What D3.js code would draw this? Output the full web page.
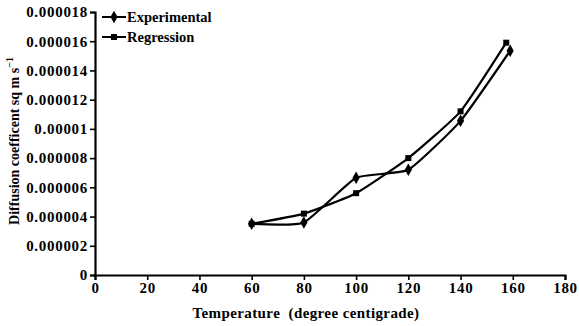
<!DOCTYPE html>
<html>
<head>
<meta charset="utf-8">
<script src="https://cdn.jsdelivr.net/npm/d3@7"></script>
<style>
  body { margin: 0; background: #fff; }
  svg text { font-family: "Liberation Serif", "DejaVu Serif", serif; fill: #000; }
</style>
</head>
<body>
<svg id="chart" width="579" height="326"></svg>
<script>
var expTemps = [60, 80, 100, 120, 140, 159];
var regTemps = [60, 80, 100, 120, 140, 157.5];
var experimental = [0.0000035, 0.0000036, 0.00000665, 0.0000072, 0.00001055, 0.00001535];
var regression = [0.0000035, 0.0000042, 0.0000056, 0.000008, 0.0000112, 0.0000159];
var xTicks = [0, 20, 40, 60, 80, 100, 120, 140, 160, 180];
var yTicks = [0, 0.000002, 0.000004, 0.000006, 0.000008, 0.00001, 0.000012, 0.000014, 0.000016, 0.000018];
var yTickLabels = ["0", "0.000002", "0.000004", "0.000006", "0.000008", "0.00001", "0.000012", "0.000014", "0.000016", "0.000018"];

var FONT = "'Liberation Serif', 'DejaVu Serif', serif";
var svg = d3.select("#chart");
var margin = {left: 95, right: 14, top: 12, bottom: 51};
var width = 579 - margin.left - margin.right,
    height = 326 - margin.top - margin.bottom;

var x = d3.scaleLinear().domain([0, 180]).range([0, width]);
var y = d3.scaleLinear().domain([0, 0.000018]).range([height, 0]);

var g = svg.append("g").attr("transform", "translate(" + margin.left + "," + margin.top + ")");

// axes
var xAxis = g.append("g")
    .attr("transform", "translate(0," + height + ")")
    .call(d3.axisBottom(x).tickValues(xTicks).tickSize(5).tickPadding(2).tickFormat(d3.format("d")));
var yAxis = g.append("g")
    .call(d3.axisLeft(y).tickValues(yTicks).tickSize(5).tickPadding(2)
        .tickFormat(function (d, i) { return yTickLabels[i]; }));

[xAxis, yAxis].forEach(function (a) {
    a.attr("font-family", FONT).attr("font-size", 15);
    a.select(".domain").attr("stroke", "#000").attr("stroke-width", 2.2);
    a.selectAll(".tick line").attr("stroke", "#000").attr("stroke-width", 1.6);
    a.selectAll(".tick text")
        .style("font-family", FONT)
        .style("font-size", "15px")
        .style("font-weight", "bold")
        .style("letter-spacing", "0.7px")
        .attr("fill", "#000");
});

// lines
var line = d3.line()
    .x(function (d) { return x(d[0]); })
    .y(function (d) { return y(d[1]); })
    .curve(d3.curveCardinal.tension(0.55));

var expData = expTemps.map(function (t, i) { return [t, experimental[i]]; });
var regData = regTemps.map(function (t, i) { return [t, regression[i]]; });

g.append("path").datum(expData)
    .attr("d", line).attr("fill", "none").attr("stroke", "#000").attr("stroke-width", 2.2);
g.append("path").datum(regData)
    .attr("d", line).attr("fill", "none").attr("stroke", "#000").attr("stroke-width", 2.2);

var diamond = d3.symbol().type(d3.symbolDiamond).size(45);
var square = d3.symbol().type(d3.symbolSquare).size(36);

g.selectAll(".exp-pt").data(expData).enter().append("path")
    .attr("class", "exp-pt")
    .attr("transform", function (d) { return "translate(" + x(d[0]) + "," + y(d[1]) + ")"; })
    .attr("d", diamond).attr("fill", "#000");
g.selectAll(".reg-pt").data(regData).enter().append("path")
    .attr("class", "reg-pt")
    .attr("transform", function (d) { return "translate(" + x(d[0]) + "," + y(d[1]) + ")"; })
    .attr("d", square).attr("fill", "#000");

// legend
var legendItems = [
    {label: "Experimental", sym: diamond},
    {label: "Regression", sym: square}
];
var legend = svg.selectAll(".legend").data(legendItems).enter().append("g")
    .attr("class", "legend")
    .attr("transform", function (d, i) { return "translate(102," + (17 + i * 20) + ")"; });
legend.append("line")
    .attr("x1", 0).attr("x2", 24).attr("y1", 0).attr("y2", 0)
    .attr("stroke", "#000").attr("stroke-width", 2);
legend.append("path")
    .attr("transform", "translate(12,0)")
    .attr("d", function (d) { return d.sym(); }).attr("fill", "#000");
legend.append("text")
    .attr("x", 25).attr("y", 5)
    .style("font-family", FONT)
    .style("font-size", "14.5px")
    .style("font-weight", "bold")
    .text(function (d) { return d.label; });

// axis titles
svg.append("text")
    .attr("x", 306).attr("y", 318)
    .attr("text-anchor", "middle")
    .style("font-family", FONT)
    .style("font-size", "15px")
    .style("font-weight", "bold")
    .style("letter-spacing", "0.4px")
    .attr("xml:space", "preserve")
    .text("Temperature  (degree centigrade)");

var yt = svg.append("text")
    .attr("transform", "translate(19,141) rotate(-90)")
    .attr("text-anchor", "middle")
    .style("font-family", FONT)
    .style("font-size", "14px")
    .style("font-weight", "bold");
yt.append("tspan").text("Diffusion coefficent sq m s");
yt.append("tspan").attr("dy", -6).style("font-size", "10px").text("\u22121");
</script>
</body>
</html>
